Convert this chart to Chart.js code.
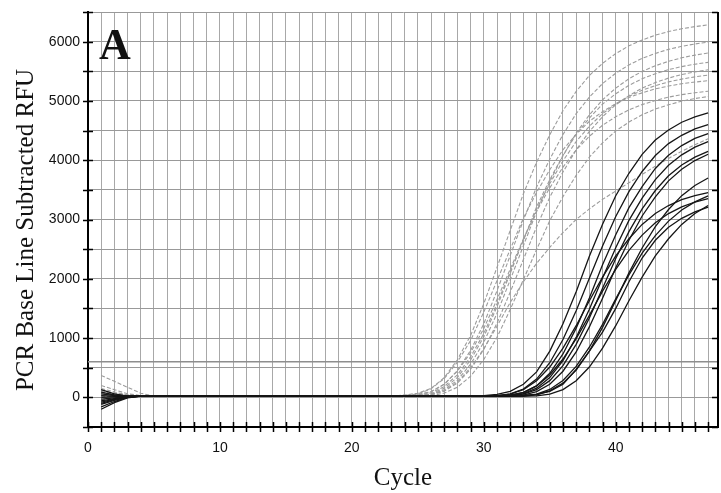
<!DOCTYPE html>
<html>
<head>
<meta charset="utf-8">
<script src="https://cdn.jsdelivr.net/npm/chart.js@4.4.0/dist/chart.umd.min.js"></script>
<style>
  body { margin: 0; background: #fff; }
  canvas { display: block; }
</style>
</head>
<body>
<canvas id="myChart" width="721" height="493"></canvas>
<script>
// cycle numbers (x values)
var cycles = [1,2,3,4,5,6,7,8,9,10,11,12,13,14,15,16,17,18,19,20,21,22,23,24,25,26,27,28,29,30,31,32,33,34,35,36,37,38,39,40,41,42,43,44,45,46,47];

// early amplifying samples (light gray), RFU per cycle
var grayCurves = [
    [370,270,170,70,20,20,30,20,30,20,20,30,20,20,30,20,30,30,20,30,30,30,20,
     40,70,150,332,635,1044,1582,2192,2814,3435,3966,4430,4836,5160,5429,5634,5799,5930,6027,6109,6170,6217,6253,6283],
    [150,90,40,20,20,30,20,20,30,30,20,20,30,20,20,30,30,20,20,30,20,30,30,
     30,50,94,220,450,793,1242,1798,2392,2986,3548,4018,4433,4785,5064,5293,5467,5608,5718,5801,5870,5921,5961,5992],
    [100,60,30,20,20,20,30,30,20,20,30,20,20,30,30,20,30,20,20,30,20,20,20,
     20,30,61,153,337,632,1020,1530,2091,2652,3213,3672,4080,4437,4712,4947,5120,5263,5375,5457,5528,5579,5620,5651],
    [60,40,20,20,30,20,20,30,20,30,30,20,20,20,30,30,20,20,30,30,20,20,30,
     30,58,144,317,595,960,1440,1968,2496,3024,3456,3840,4176,4435,4656,4819,4954,5059,5136,5203,5251,5290,5318,5342],
    [20,10,10,20,20,30,20,30,20,20,20,30,30,20,20,30,20,20,30,20,30,20,20,
     20,20,40,105,240,475,810,1250,1775,2325,2875,3375,3800,4175,4485,4735,4935,5090,5215,5310,5385,5445,5490,5525],
    [-40,-20,0,10,20,20,30,20,20,30,20,30,20,20,30,20,20,30,30,20,20,30,20,
     20,37,98,223,442,753,1163,1651,2162,2674,3139,3534,3883,4171,4404,4590,4734,4850,4938,5008,5064,5106,5138,5163],
    [80,50,30,20,20,20,20,30,30,20,20,20,30,20,30,30,20,20,20,30,20,30,20,
     20,20,26,72,171,357,640,1012,1481,1987,2493,2981,3386,3744,4052,4293,4493,4644,4767,4863,4935,4996,5040,5075],
    [200,130,60,30,20,30,20,20,30,20,30,20,20,30,20,30,20,20,30,20,20,30,30,
     30,35,76,182,380,682,1078,1578,2117,2656,3175,3606,3989,4316,4573,4786,4947,5078,5180,5257,5321,5368,5406,5434],
    [0,10,10,20,20,30,20,20,30,20,20,30,20,30,20,20,30,20,20,30,20,20,30,
     30,30,50,110,260,500,820,1200,1600,1950,2260,2530,2780,3000,3180,3340,3480,3620,3760,3900,4030,4150,4260,4360],
    [120,70,40,20,20,20,30,20,20,30,30,20,20,20,30,20,30,30,20,20,30,20,20,
     20,25,50,129,290,560,930,1418,1979,2557,3134,3638,4074,4457,4766,5020,5217,5374,5499,5592,5669,5728,5773,5808]
];

// late amplifying samples (black), RFU per cycle
var blackCurves = [
    [130,60,20,20,30,20,30,20,20,30,20,20,30,30,20,20,30,20,20,30,30,20,20,30,20,30,20,20,30,
     30,50,100,220,430,780,1240,1780,2380,2920,3400,3780,4100,4340,4510,4640,4730,4800],
    [-30,-10,10,20,20,30,20,20,30,20,30,30,20,20,30,20,20,30,30,20,20,30,20,20,30,20,20,30,20,
     25,30,57,141,308,584,975,1460,2010,2555,3050,3470,3810,4080,4280,4420,4530,4600],
    [90,40,20,20,30,30,20,20,30,20,20,30,20,30,20,20,30,20,30,30,20,20,30,20,20,30,30,20,20,
     20,30,40,81,193,406,732,1168,1676,2235,2743,3200,3556,3861,4084,4247,4369,4450],
    [-80,-30,10,20,20,20,30,30,20,20,30,20,20,30,30,20,20,20,30,20,30,20,20,30,20,20,30,20,30,
     20,25,30,64,155,334,618,1011,1485,2015,2525,2985,3360,3673,3914,4091,4221,4312],
    [60,30,20,20,30,20,20,30,20,30,20,20,30,20,20,30,30,20,20,30,20,20,30,30,20,20,20,30,20,
     20,20,20,38,97,220,441,766,1188,1672,2185,2651,3059,3382,3652,3849,3994,4100],
    [-120,-50,0,20,20,30,20,20,30,30,20,20,30,20,20,30,20,30,20,20,30,30,20,20,30,20,30,20,20,
     20,25,55,131,279,512,830,1209,1630,2028,2387,2675,2917,3101,3235,3335,3404,3454],
    [30,20,20,20,30,20,30,20,20,30,20,20,30,30,20,20,30,20,20,30,20,30,20,20,30,30,20,20,30,
     20,20,34,86,193,378,647,991,1383,1791,2160,2480,2736,2946,3100,3213,3295,3351],
    [-160,-70,0,20,20,30,20,30,20,20,30,30,20,20,30,20,20,30,20,30,20,20,30,20,20,30,20,30,20,
     20,20,25,53,129,282,535,894,1338,1840,2342,2796,3179,3489,3738,3920,4053,4149],
    [-60,-20,10,20,30,20,20,30,20,20,30,20,30,20,20,30,30,20,20,20,30,20,20,30,20,30,20,20,30,
     20,20,20,25,56,134,285,522,846,1232,1662,2067,2433,2727,2973,3161,3298,3399],
    [-200,-90,-10,20,20,30,30,20,20,30,20,20,30,20,30,20,20,30,20,20,30,30,20,20,30,20,20,30,20,
     20,20,20,20,44,109,240,462,781,1181,1636,2100,2520,2879,3168,3402,3574,3700],
    [0,10,20,20,30,20,20,30,30,20,20,30,20,20,30,20,30,20,20,30,20,20,30,30,20,20,30,20,20,
     20,20,20,20,25,55,131,279,512,830,1209,1630,2028,2387,2675,2917,3101,3235],
    [-100,-40,0,20,20,20,30,20,30,20,20,30,20,30,20,20,30,30,20,20,30,20,20,20,30,20,20,30,20,
     20,20,25,35,50,100,220,470,780,1100,1500,1950,2350,2650,2870,3020,3130,3210]
];

var threshold = 600;
var xMin = 0, xMax = 47.75;
var yMin = -500, yMax = 6500;
var xLabelTicks = [0, 10, 20, 30, 40];
var yLabelTicks = [0, 1000, 2000, 3000, 4000, 5000, 6000];

function toPoints(arr) {
    var pts = [];
    for (var i = 0; i < arr.length; i++) {
        pts.push({ x: cycles[i], y: arr[i] });
    }
    return pts;
}

var datasets = [];
for (var i = 0; i < blackCurves.length; i++) {
    datasets.push({ data: toPoints(blackCurves[i]), borderColor: '#151515', borderWidth: 1.3, order: 0 });
}
for (var i = 0; i < grayCurves.length; i++) {
    datasets.push({ data: toPoints(grayCurves[i]), borderColor: '#9c9c9c', borderWidth: 1.1, borderDash: [4, 2], order: 1 });
}
// threshold line
datasets.push({ data: [{ x: xMin, y: threshold }, { x: xMax, y: threshold }], borderColor: '#8e8e8e', borderWidth: 1.6, order: 2 });

// cross tick marks, right frame and the text labels
var frame = {
    id: 'frame',
    afterDraw: function (chart) {
        var ctx = chart.ctx;
        var area = chart.chartArea;
        var xs = chart.scales.x, ys = chart.scales.y;
        ctx.save();
        ctx.strokeStyle = '#000';
        ctx.lineWidth = 1.5;
        ctx.beginPath();
        for (var c = 0; c <= 47; c++) {
            var px = Math.round(xs.getPixelForValue(c)) + 0.5;
            ctx.moveTo(px, area.bottom - 5);
            ctx.lineTo(px, area.bottom + 5);
        }
        for (var v = yMin; v <= yMax; v += 500) {
            var py = Math.round(ys.getPixelForValue(v)) + 0.5;
            ctx.moveTo(area.left - 5, py);
            ctx.lineTo(area.left + 5, py);
            ctx.moveTo(area.right - 6, py);
            ctx.lineTo(area.right, py);
        }
        ctx.stroke();
        ctx.lineWidth = 2;
        ctx.beginPath();
        ctx.moveTo(area.right, area.top);
        ctx.lineTo(area.right, area.bottom);
        ctx.stroke();

        ctx.fillStyle = '#111';
        ctx.font = 'bold 44px "Liberation Serif"';
        ctx.textAlign = 'left';
        ctx.textBaseline = 'alphabetic';
        ctx.fillText('A', 99, 59);

        ctx.font = '25px "Liberation Serif"';
        ctx.textAlign = 'center';
        ctx.fillText('Cycle', 403, 485);

        ctx.translate(33, 230);
        ctx.rotate(-Math.PI / 2);
        ctx.fillText('PCR Base Line Subtracted RFU', 0, 0);
        ctx.restore();
    }
};

var ctx = document.getElementById('myChart').getContext('2d');
var chart = new Chart(ctx, {
    type: 'line',
    data: { datasets: datasets },
    plugins: [frame],
    options: {
        responsive: false,
        animation: false,
        events: [],
        layout: { padding: { left: 0, right: 3, top: 12, bottom: 0 } },
        elements: { point: { radius: 0 }, line: { tension: 0 } },
        plugins: { legend: { display: false }, tooltip: { enabled: false } },
        scales: {
            x: {
                type: 'linear',
                min: xMin,
                max: xMax,
                afterFit: function (scale) { scale.height = 66; scale.paddingLeft = 0; scale.paddingRight = 0; },
                grid: { color: '#a8a8a8', lineWidth: 1, drawTicks: false },
                border: { display: true, color: '#000', width: 2 },
                ticks: {
                    stepSize: 1,
                    includeBounds: false,
                    autoSkip: false,
                    maxRotation: 0,
                    padding: 13,
                    color: '#111',
                    font: { family: 'Liberation Sans', size: 14 },
                    callback: function (v) { return xLabelTicks.indexOf(v) >= 0 ? String(v) : ''; }
                }
            },
            y: {
                min: yMin,
                max: yMax,
                afterFit: function (scale) { scale.width = 88; scale.paddingTop = 0; scale.paddingBottom = 0; },
                grid: { color: '#999999', lineWidth: 1, drawTicks: false },
                border: { display: true, color: '#000', width: 2 },
                ticks: {
                    stepSize: 500,
                    autoSkip: false,
                    padding: 8,
                    color: '#111',
                    font: { family: 'Liberation Sans', size: 14 },
                    callback: function (v) { return yLabelTicks.indexOf(v) >= 0 ? String(v) : ''; }
                }
            }
        }
    }
});
</script>
</body>
</html>
